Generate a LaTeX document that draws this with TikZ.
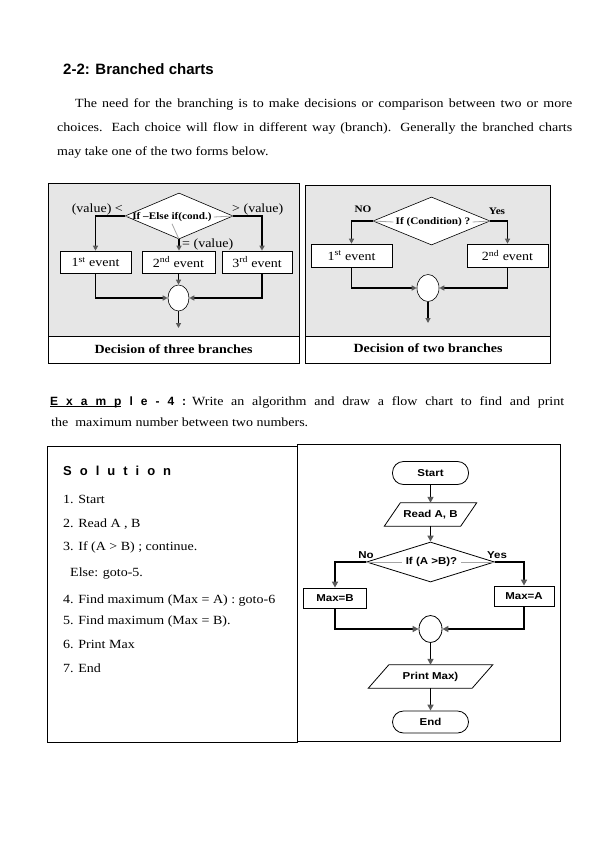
\documentclass[tikz,border=0pt]{standalone}
\usepackage{fontspec}
\setmainfont{Liberation Serif}[FakeStretch=1.12]
\newfontfamily\hsans{Liberation Sans}
\newfontfamily\fcsans{Liberation Sans}[FakeStretch=1.15]
\usetikzlibrary{shapes.geometric,arrows.meta,calc}
\definecolor{chartbg}{RGB}{230,230,230}
\definecolor{arrowgray}{RGB}{90,90,90}
\definecolor{linegray}{RGB}{165,165,165}
\newcommand\lgap{\hspace{8pt}}
\newcommand\sgap{\hspace{8pt}}
\begin{document}
\begin{tikzpicture}[x=1pt,y=-1pt,
  bodytext/.style={font=\fontsize{12.5}{15}\selectfont, inner sep=0pt, anchor=base west},
  boxframe/.style={draw=black, line width=0.8pt},
  conn/.style={draw=black, line width=1.2pt, -{Triangle[length=5pt,width=5pt,color=arrowgray]}},
  fconn/.style={draw=black, line width=1.5pt, -{Triangle[length=6pt,width=6pt,color=arrowgray]}},
  gline/.style={draw=linegray, line width=0.8pt},
  evbox/.style={draw=black, fill=white, line width=0.6pt, minimum height=22pt, inner sep=0pt, font=\fontsize{12.5}{15}\selectfont},
  dmd/.style={diamond, draw=black, fill=white, line width=0.6pt, inner sep=0pt},
  circ/.style={ellipse, draw=black, fill=white, line width=0.6pt, inner sep=0pt},
  dtext/.style={font=\bfseries\fontsize{10}{12}\selectfont, inner sep=2pt},
  lbltext/.style={font=\fontsize{12.5}{15}\selectfont, inner sep=0pt},
  captext/.style={font=\bfseries\fontsize{12.5}{15}\selectfont, inner sep=0pt},
  fctext/.style={font=\fcsans\bfseries\fontsize{10}{12}\selectfont},
  fcbox/.style={fctext, draw=black, line width=0.8pt, inner sep=0pt, fill=white},
  termbox/.style={fcbox, rounded corners=11pt, minimum width=76pt, minimum height=23pt},
  slantnode/.style={fctext, inner sep=0pt, minimum height=23pt},
  slantline/.style={draw=black, line width=0.8pt}
]
\fill[white] (0,0) rectangle (612,842);
\useasboundingbox (0,0) rectangle (612,842);

% Title and paragraph
\node[anchor=base west, inner sep=0pt, font=\hsans\bfseries\fontsize{15}{18}\selectfont] (title) at (63,75) {2-2: Branched charts};
\node[bodytext] (p1) at (75,108) {\makebox[497pt][s]{The need for the branching is to make decisions or comparison between two or more}};
\node[bodytext] (p2) at (57,132) {\makebox[515pt][s]{choices. Each choice will flow in different way (branch). Generally the branched charts}};
\node[bodytext] (p3) at (57,156) {may take one of the two forms below.};

% ---------- Chart 1: three branches ----------
\fill[chartbg] (48,183) rectangle (299,336);
\draw[boxframe] (48,183) rectangle (299,363);
\draw[boxframe] (48,336) -- (299,336);
\node[captext] (cap1) at (173.5,349.5) {Decision of three branches};

\node[dmd, minimum width=108pt, minimum height=46pt] (d1) at (179,216) {};
\node[dtext] (d1t) at (172,217) {If –Else if(cond.)};
\draw[gline] (d1.west) -- (d1t.west);
\draw[gline] (d1t.east) -- (d1.east);
\node[lbltext, anchor=east] (l1) at (123,209) {(value) <};
\node[lbltext, anchor=west] (l3) at (232,209) {> (value)};
\node[lbltext, anchor=west] (l2) at (182,244) {= (value)};

\node[evbox, minimum width=71pt] (e1) at (95.5,262) {1\textsuperscript{st} event};
\node[evbox, minimum width=73pt] (e2) at (178.5,262) {2\textsuperscript{nd} event};
\node[evbox, minimum width=70pt] (e3) at (257,262) {3\textsuperscript{rd} event};

\draw[conn] (d1.west) -| (e1.north);
\draw[conn] (d1.east) -| ($(e3.north)+(5,0)$);
\draw[gline] (d1t.south) -- (d1.south);
\draw[conn] (d1.south) -- (d1.south |- e2.north);

\node[circ, minimum width=21pt, minimum height=26pt] (c1) at (178.5,298) {};
\draw[conn] (e1.south) |- (c1.west);
\draw[conn] ($(e3.south)+(5,0)$) |- (c1.east);
\draw[conn] (e2.south) -- (c1.north);
\coordinate (o1) at (178.5,328);
\draw[conn] (c1.south) -- (o1);

% ---------- Chart 2: two branches ----------
\fill[chartbg] (305,185) rectangle (550,336);
\draw[boxframe] (305,185) rectangle (550,363);
\draw[boxframe] (305,336) -- (550,336);
\node[captext] (cap2) at (428,348) {Decision of two branches};

\node[dmd, minimum width=117pt, minimum height=48pt] (d2) at (431.5,221) {};
\node[dtext] (d2t) at (433,222) {If (Condition) ?};
\draw[gline] (d2.west) -- (d2t.west);
\draw[gline] (d2t.east) -- (d2.east);
\node[dtext] (no1) at (363,209) {NO};
\node[dtext] (yes1) at (497,211) {Yes};

\node[evbox, minimum width=81pt, minimum height=23pt] (f1) at (351.5,255.5) {1\textsuperscript{st} event};
\node[evbox, minimum width=81pt, minimum height=23pt] (f2) at (507.5,255.5) {2\textsuperscript{nd} event};
\draw[conn] (d2.west) -| (f1.north);
\draw[conn] (d2.east) -| (f2.north);

\node[circ, minimum width=22pt, minimum height=27pt] (c2) at (428,288) {};
\draw[conn] (f1.south) |- (c2.west);
\draw[conn] (f2.south) |- (c2.east);
\coordinate (o2) at (428,323);
\draw[conn] (c2.south) -- (o2);

% ---------- Example ----------
\node[anchor=base west, inner sep=0pt, font=\hsans\bfseries\fontsize{12}{14}\selectfont] (ex1) at (50,405)
  {\rlap{\rule[-2pt]{71pt}{1.1pt}}E\lgap x\lgap a\lgap m\lgap p\lgap l\lgap e\lgap -\lgap 4\lgap :};
\node[bodytext] (ex2) at (192,405) {\makebox[372pt][s]{Write an algorithm and draw a flow chart to find and print}};
\node[bodytext] (ex3) at (51,426) {the~~maximum number between two numbers.};

% ---------- Solution box ----------
\draw[boxframe, line width=1pt] (47,446) rectangle (297,742);
\node[anchor=base west, inner sep=0pt, font=\hsans\bfseries\fontsize{13}{15}\selectfont] (sol) at (63,475)
  {S\sgap o\sgap l\sgap u\sgap t\sgap i\sgap o\sgap n};
\node[bodytext] (s1) at (63,503) {1. Start};
\node[bodytext] (s2) at (63,527) {2. Read A , B};
\node[bodytext] (s3) at (63,550) {3. If (A > B) ; continue.};
\node[bodytext] (s3b) at (70,576) {Else: goto-5.};
\node[bodytext] (s4) at (63,603) {4. Find maximum (Max = A) : goto-6};
\node[bodytext] (s5) at (63,624) {5. Find maximum (Max = B).};
\node[bodytext] (s6) at (63,648) {6. Print Max};
\node[bodytext] (s7) at (63,672) {7. End};

% ---------- Flowchart box ----------
\draw[boxframe, line width=1pt] (297,444) rectangle (560,741);

\node[termbox] (start) at (430.5,473) {Start};
\node[slantnode, minimum width=60pt] (read) at (430.5,514.5) {Read A, B};
\draw[slantline] ([xshift=-16pt]read.south west) -- (read.north west) -- ([xshift=16pt]read.north east) -- (read.south east) -- cycle;

\node[dmd, line width=0.8pt, minimum width=128pt, minimum height=40pt] (dec) at (430.5,562) {};
\node[fctext, inner sep=4pt] (dect) at (431.5,562) {If (A >B)?};
\draw[gline] (dec.west) -- (dect.west);
\draw[gline] (dect.east) -- (dec.east);
\node[fctext, inner sep=0pt] (no2) at (366,555) {No};
\node[fctext, inner sep=0pt] (yes2) at (497,555) {Yes};

\node[fcbox, minimum width=63pt, minimum height=20pt] (maxb) at (335,598) {Max=B};
\node[fcbox, minimum width=60pt, minimum height=20pt] (maxa) at (524,596) {Max=A};

\node[circ, line width=0.8pt, minimum width=23pt, minimum height=27pt] (c3) at (430.5,629) {};

\node[slantnode, minimum width=83pt] (print) at (430.5,676.5) {Print Max)};
\draw[slantline] ([xshift=-20.5pt]print.south west) -- (print.north west) -- ([xshift=20.5pt]print.north east) -- (print.south east) -- cycle;

\node[termbox, minimum height=22pt] (end) at (430.5,722) {End};

\draw[fconn] (start.south) -- (read.north);
\draw[fconn] (read.south) -- (dec.north);
\draw[fconn] (dec.west) -| (maxb.north);
\draw[fconn] (dec.east) -| (maxa.north);
\draw[fconn] (maxb.south) |- (c3.west);
\draw[fconn] (maxa.south) |- (c3.east);
\draw[fconn] (c3.south) -- (print.north);
\draw[fconn] (print.south) -- (end.north);
\end{tikzpicture}
\end{document}
